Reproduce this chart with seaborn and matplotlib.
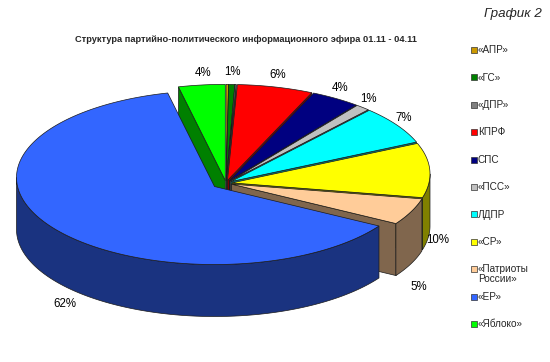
import numpy as np
import matplotlib
matplotlib.use("Agg")
import matplotlib.pyplot as plt
from matplotlib.patches import Polygon, Rectangle
import seaborn as sns

# ---- data ----
parties = ["«АПР»", "«ГС»", "«ДПР»", "КПРФ", "СПС", "«ПСС»", "ЛДПР", "«СР»",
           "«Патриоты\nРоссии»", "«ЕР»", "«Яблоко»"]
shares = [0.2, 0.5, 0.1, 6.2, 4.1, 1.2, 7.0, 10.1, 5.0, 61.8, 3.8]
hex_colors = ["#CC9900", "#008000", "#808080", "#FF0000", "#000080", "#C0C0C0",
              "#00FFFF", "#FFFF00", "#FFCC99", "#3366FF", "#00FF00"]
title = "Структура партийно-политического информационного эфира 01.11 - 04.11"
chart_no = "График 2"

# ---- style / layout ----
sns.set_theme(style="white")
plt.rcParams["font.family"] = ["Liberation Sans", "DejaVu Sans"]
palette = sns.color_palette(hex_colors)
explode_px = [6, 6, 6, 6, 6, 6, 6, 6, 6, 14, 6]

fig = plt.figure(figsize=(5.5, 3.62), dpi=100)
ax = fig.add_axes([0, 0, 1, 1])
ax.set_xlim(0, 550)
ax.set_ylim(362, 0)
ax.axis("off")

CX, CY = 226, 174      # ellipse centre (px)
AX0, AY0 = 226, 183    # apex (px)
RX, RY = 198, 87
DEPTH = 52


def darker(c, f=0.5):
    return tuple(v * f for v in c)


total = float(sum(shares))
bounds = np.concatenate([[0], np.cumsum(shares)]) / total * 360.0

slices = []
for i, v in enumerate(shares):
    a0, a1 = bounds[i], bounds[i + 1]
    m = np.radians((a0 + a1) / 2)
    ox = explode_px[i] * np.sin(m)
    oy = -explode_px[i] * np.cos(m) * RY / RX
    slices.append((a0, a1, ox, oy))


def rim(angles, ox, oy, dz=0.0):
    t = np.radians(angles)
    return np.column_stack([CX + ox + RX * np.sin(t), CY + oy - RY * np.cos(t) + dz])


EDGE = dict(edgecolor="#1a1a1a", linewidth=0.5)

# radial walls
for i, (a0, a1, ox, oy) in enumerate(slices):
    col = darker(palette[i])
    ap = np.array([AX0 + ox, AY0 + oy])
    for a, vis in ((a0, 180 < (a0 % 360) < 360), (a1, 0 < (a1 % 360) < 180)):
        if not vis:
            continue
        r = rim([a], ox, oy)[0]
        pts = [ap, r, r + [0, DEPTH], ap + [0, DEPTH]]
        ax.add_patch(Polygon(pts, closed=True, facecolor=col, **EDGE))

# outer walls (front half)
for i, (a0, a1, ox, oy) in enumerate(slices):
    lo, hi = max(a0, 90), min(a1, 270)
    if hi <= lo:
        continue
    angs = np.linspace(lo, hi, 120)
    top = rim(angs, ox, oy)
    bot = rim(angs[::-1], ox, oy, DEPTH)
    ax.add_patch(Polygon(np.vstack([top, bot]), closed=True,
                         facecolor=darker(palette[i]), **EDGE))

# top faces
for i, (a0, a1, ox, oy) in enumerate(slices):
    n = max(3, int((a1 - a0) * 2))
    arc = rim(np.linspace(a0, a1, n), ox, oy)
    pts = np.vstack([[AX0 + ox, AY0 + oy], arc])
    ax.add_patch(Polygon(pts, closed=True, facecolor=palette[i], **EDGE))

# percentage labels
for i, v in enumerate(shares):
    pct = int(v / total * 100 + 0.5)
    if pct < 1:
        continue
    a0, a1, ox, oy = slices[i]
    m = np.radians((a0 + a1) / 2)
    s, c = np.sin(m), np.cos(m)
    x = CX + (RX + 14 if s > 0 else RX - 2) * s
    y = CY + oy - (RY + 12) * c + (DEPTH + 18 if c < 0.1 else 0)
    ax.text(x, y, f"{pct}%", ha="center", va="center", fontsize=8.3, color="black")

# title
ax.text(246, 40, title, ha="center", va="center", fontsize=6.7, fontweight="bold")
ax.text(542, 13.5, chart_no, ha="right", va="center", fontsize=9.6, style="italic")

# legend
for i, (name, col) in enumerate(zip(parties, palette)):
    y = 50 + i * 27.4
    ax.add_patch(Rectangle((470.5, y - 3), 6, 6, facecolor=col,
                           edgecolor="#333333", linewidth=0.5))
    ax.text(478, y - 4.8, name, ha="left", va="top", fontsize=7.2, linespacing=1.0)

fig.savefig("out.png", dpi=100)
